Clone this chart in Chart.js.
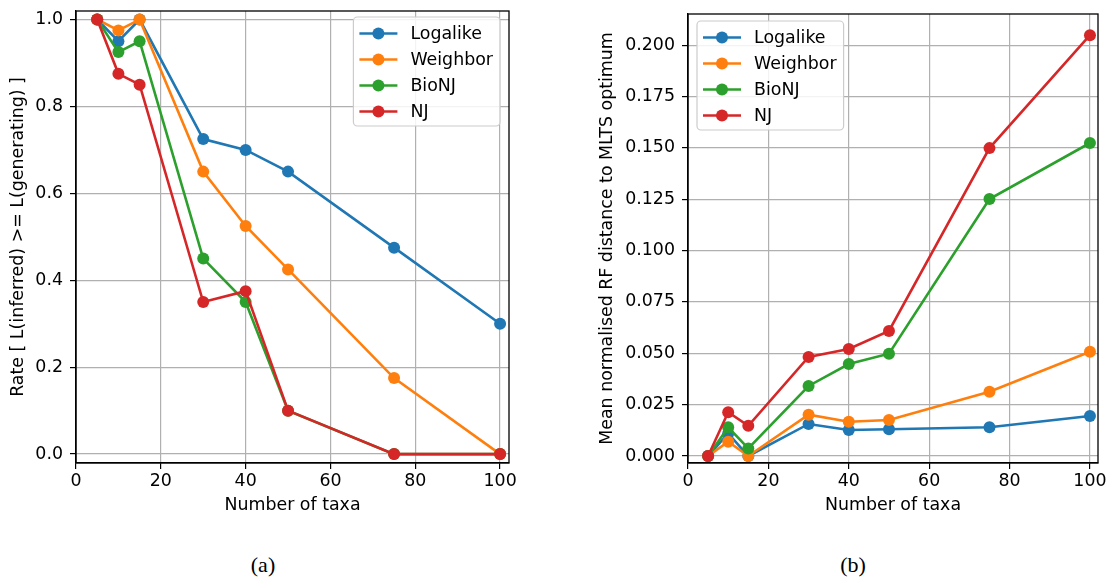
<!DOCTYPE html>
<html>
<head>
<meta charset="utf-8">
<script src="https://cdn.jsdelivr.net/npm/chart.js@4"></script>
<style>
  body { margin: 0; background: #fff; width: 1109px; height: 578px; position: relative; overflow: hidden; }
  .panel { position: absolute; top: 0; }
  .cap { position: absolute; top: 552px; font-family: "Liberation Serif", "DejaVu Serif", serif; font-size: 22px; transform: translateX(-50%); color: #000; }
</style>
</head>
<body>
<div class="panel" style="left:0"><canvas id="chartA" width="520" height="530"></canvas></div>
<div class="panel" style="left:590px"><canvas id="chartB" width="519" height="530"></canvas></div>
<div class="cap" style="left:263px">(a)</div>
<div class="cap" style="left:853px">(b)</div>
<script>
const taxa = [5, 10, 15, 30, 40, 50, 75, 100];
const methods = ["Logalike", "Weighbor", "BioNJ", "NJ"];
const colors = ["#1f77b4", "#ff7f0e", "#2ca02c", "#d62728"];

// (a) rate of L(inferred) >= L(generating)
const rateLogalike = [1.0, 0.95, 1.0, 0.725, 0.70, 0.65, 0.475, 0.30];
const rateWeighbor = [1.0, 0.975, 1.0, 0.65, 0.525, 0.425, 0.175, 0.0];
const rateBioNJ = [1.0, 0.925, 0.95, 0.45, 0.35, 0.10, 0.0, 0.0];
const rateNJ = [1.0, 0.875, 0.85, 0.35, 0.375, 0.10, 0.0, 0.0];

// (b) mean normalised RF distance
const rfLogalike = [0.0, 0.011, 0.0, 0.0156, 0.0127, 0.0130, 0.0140, 0.0195];
const rfWeighbor = [0.0, 0.0070, 0.0, 0.0201, 0.0167, 0.0175, 0.0313, 0.0508];
const rfBioNJ = [0.0, 0.0140, 0.0037, 0.0341, 0.0448, 0.0498, 0.1251, 0.1524];
const rfNJ = [0.0, 0.0213, 0.0147, 0.0482, 0.0521, 0.0609, 0.1499, 0.2049];

const xTicks = [0, 20, 40, 60, 80, 100];
const rateTicks = [0, 0.2, 0.4, 0.6, 0.8, 1.0];
const rfTicks = [0, 0.025, 0.05, 0.075, 0.1, 0.125, 0.15, 0.175, 0.2];

const FONT = "'DejaVu Sans', sans-serif";
const FSIZE = 17.4;
const MARKER = 6;

const framePlugin = {
  id: "frame",
  afterDraw(chart, args, opts) {
    const { ctx, chartArea: a } = chart;
    ctx.save();
    ctx.strokeStyle = "#000";
    ctx.lineWidth = 1.3;
    ctx.strokeRect(a.left, a.top, a.right - a.left, a.bottom - a.top);

    // matplotlib style legend inside the axes
    ctx.font = FSIZE + "px " + FONT;
    const textW = Math.max(...methods.map((m) => ctx.measureText(m).width));
    const w = 6 + 38 + 13 + textW + 7;
    const h = 109;
    const x = opts.side === "right" ? a.right - opts.dx - w : a.left + opts.dx;
    const y = a.top + opts.dy;
    ctx.beginPath();
    ctx.roundRect(x, y, w, h, 4);
    ctx.fillStyle = "rgba(255,255,255,0.85)";
    ctx.fill();
    ctx.strokeStyle = "#cccccc";
    ctx.lineWidth = 1.2;
    ctx.stroke();
    methods.forEach((m, i) => {
      const cy = y + 16.5 + i * 26;
      ctx.strokeStyle = colors[i];
      ctx.lineWidth = 2.6;
      ctx.beginPath();
      ctx.moveTo(x + 6, cy);
      ctx.lineTo(x + 44, cy);
      ctx.stroke();
      ctx.fillStyle = colors[i];
      ctx.beginPath();
      ctx.arc(x + 25, cy, MARKER, 0, Math.PI * 2);
      ctx.fill();
      ctx.fillStyle = "#000";
      ctx.textBaseline = "middle";
      ctx.fillText(m, x + 57, cy + 1);
    });
    ctx.restore();
  }
};

function makeDatasets(series) {
  return series.map((values, i) => ({
    label: methods[i],
    data: taxa.map((t, k) => ({ x: t, y: values[k] })),
    borderColor: colors[i],
    backgroundColor: colors[i],
    borderWidth: 2.6,
    pointRadius: MARKER,
    pointHoverRadius: MARKER,
    pointBorderWidth: 0,
    order: series.length - 1 - i
  }));
}

function buildChart(canvas, cfg) {
  return new Chart(canvas, {
    type: "line",
    data: { datasets: makeDatasets(cfg.series) },
    options: {
      responsive: false,
      animation: false,
      layout: { padding: { top: cfg.top, right: 11, left: 0, bottom: 0 } },
      plugins: {
        legend: { display: false },
        tooltip: { enabled: false },
        frame: cfg.legend
      },
      scales: {
        x: {
          type: "linear",
          min: 0,
          max: cfg.xMax,
          afterBuildTicks: (s) => { s.ticks = xTicks.map((v) => ({ value: v })); },
          afterFit: (s) => { s.height = 67; s.paddingLeft = 0; s.paddingRight = 0; },
          ticks: { color: "#000", font: { family: FONT, size: FSIZE }, padding: 2, callback: (v) => String(v) },
          grid: { color: "#b0b0b0", lineWidth: 1.2, tickColor: "#000", tickLength: 6 },
          border: { color: "#000", width: 1.3 },
          title: { display: true, text: "Number of taxa", color: "#000", font: { family: FONT, size: FSIZE }, padding: { top: 0, bottom: 13.6 } }
        },
        y: {
          min: cfg.yMin,
          max: cfg.yMax,
          afterBuildTicks: (s) => { s.ticks = cfg.yTicks.map((v) => ({ value: v })); },
          afterFit: (s) => { s.width = cfg.yWidth; s.paddingTop = 0; s.paddingBottom = 0; },
          ticks: { color: "#000", font: { family: FONT, size: FSIZE }, padding: 7, callback: (v) => v.toFixed(cfg.digits) },
          grid: { color: "#b0b0b0", lineWidth: 1.2, tickColor: "#000", tickLength: 6 },
          border: { color: "#000", width: 1.3 },
          title: { display: true, text: cfg.yTitle, color: "#000", font: { family: FONT, size: FSIZE }, padding: { top: cfg.titlePad, bottom: 0 } }
        }
      }
    },
    plugins: [framePlugin]
  });
}

buildChart(document.getElementById("chartA"), {
  series: [rateLogalike, rateWeighbor, rateBioNJ, rateNJ],
  top: 11,
  xMax: 102.1,
  yMin: -0.0205,
  yMax: 1.0196,
  yTicks: rateTicks,
  digits: 1,
  yWidth: 76,
  titlePad: 7.6,
  yTitle: "Rate [ L(inferred) >= L(generating) ]",
  legend: { side: "right", dx: 9, dy: 6 }
});

buildChart(document.getElementById("chartB"), {
  series: [rfLogalike, rfWeighbor, rfBioNJ, rfNJ],
  top: 14,
  xMax: 102,
  yMin: -0.0034,
  yMax: 0.2152,
  yTicks: rfTicks,
  digits: 3,
  yWidth: 98,
  titlePad: 7,
  yTitle: "Mean normalised RF distance to MLTS optimum",
  legend: { side: "left", dx: 9, dy: 7 }
});
</script>
</body>
</html>
